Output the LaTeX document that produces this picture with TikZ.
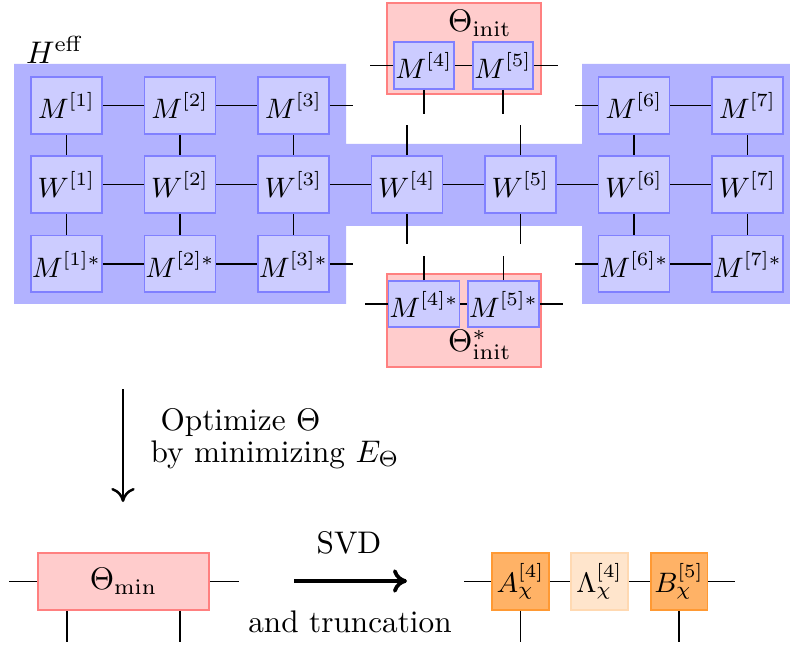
\documentclass[tikz,border=0pt]{standalone}
\usepackage{amsmath}
\usetikzlibrary{calc,arrows.meta}

\tikzset{
  tensor/.style={draw=blue!50, fill=blue!20, semithick, inner sep=0pt, font=\small,
    minimum width=22.7pt, minimum height=18.2pt},
  thetabox/.style={draw=red!50, fill=red!20, semithick, inner sep=0pt},
  abox/.style={draw=orange!80, fill=orange!60, semithick, inner sep=0pt, font=\small,
    minimum width=18.2pt, minimum height=18.2pt},
  lbox/.style={draw=orange!30, fill=orange!20, semithick, inner sep=0pt, font=\small,
    minimum width=18.2pt, minimum height=18.2pt},
  bond/.style={semithick, black},
  step arrow/.style={-{To[length=4.5pt, width=7.5pt]}},
}

\begin{document}
\begin{tikzpicture}[x=0.32pt, y=-0.32pt]
  \useasboundingbox (0,0) rectangle (790,646);

  % Effective Hamiltonian background
  \fill[blue!30] (14,64) -- (346,64) -- (346,144) -- (582,144) -- (582,64)
    -- (790,64) -- (790,304) -- (582,304) -- (582,226) -- (346,226)
    -- (346,304) -- (14,304) -- cycle;
  \node (Heff) at (55,50) {$H^{\mathrm{eff}}$};

  % Two-site tensors
  \node[thetabox, minimum width=49.3pt, minimum height=29.1pt] (Ti) at (464,48.5) {};
  \node[inner sep=0pt] (Tilab) at (480,23) {$\Theta_{\mathrm{init}}$};
  \node[thetabox, minimum width=49.3pt, minimum height=29.8pt] (Tis) at (464,320.5) {};
  \node[inner sep=0pt] (Tislab) at (480,345) {$\Theta^*_{\mathrm{init}}$};

  % MPS, MPO and conjugate MPS
  \foreach \i in {1,...,7}
    \node[tensor] (W\i) at ({66.5+113.5*(\i-1)},184.5) {$W^{[\i]}$};
  \foreach \i in {1,2,3,6,7} {
    \node[tensor] (M\i) at ({66.5+113.5*(\i-1)},105.5) {$M^{[\i]}$};
    \node[tensor] (Ms\i) at ({66.5+113.5*(\i-1)},264) {$M^{[\i]*}$};
    \draw[bond] (M\i) -- (W\i);
    \draw[bond] (W\i) -- (Ms\i);
  }
  \node[tensor, minimum width=19.2pt, minimum height=15pt] (M4) at (424,65.5) {$M^{[4]}$};
  \node[tensor, minimum width=19.2pt, minimum height=15pt] (M5) at (503,65.5) {$M^{[5]}$};
  \node[tensor, minimum height=14.7pt] (Ms4) at (424,304) {$M^{[4]*}$};
  \node[tensor, minimum height=14.7pt] (Ms5) at (503.5,304) {$M^{[5]*}$};

  % Bonds
  \draw[bond] (M1) -- (M2) -- (M3);
  \draw[bond] (M6) -- (M7);
  \draw[bond] (Ms1) -- (Ms2) -- (Ms3);
  \draw[bond] (Ms6) -- (Ms7);
  \draw[bond] (W1) -- (W2) -- (W3) -- (W4) -- (W5) -- (W6) -- (W7);
  \draw[bond] (M3.east) -- ++(23,0);
  \draw[bond] (Ms3.east) -- ++(23,0);
  \draw[bond] (M6.west) -- ++(-23,0);
  \draw[bond] (Ms6.west) -- ++(-23,0);
  \draw[bond] (M4.west) -- ++(-23,0);
  \draw[bond] (M4) -- (M5);
  \draw[bond] (M5.east) -- ++(24,0);
  \draw[bond] (Ms4.west) -- ++(-23,0);
  \draw[bond] (Ms4) -- (Ms5);
  \draw[bond] (Ms5.east) -- ++(23,0);
  \foreach \i in {4,5} {
    \draw[bond] (M\i.south) -- ++(0,24);
    \draw[bond] (Ms\i.north) -- ++(0,-24);
    \draw[bond] (W\i.north) -- ++(0,-30);
    \draw[bond] (W\i.south) -- ++(0,30);
  }

  % Optimization step
  \coordinate (optA) at (123,389);
  \coordinate (optB) at (123,502);
  \draw[step arrow, thick] (optA) -- (optB);
  \node[anchor=base west, inner sep=0pt] (optlab) at (160,430) {Optimize $\Theta$};
  \node[anchor=base west, inner sep=0pt] (minlab) at (150,462) {by minimizing $E_\Theta$};

  % Optimized two-site tensor
  \node[thetabox, minimum width=54.7pt, minimum height=18.2pt] (Tmin) at (123.5,581.5)
    {$\Theta_{\mathrm{min}}$};
  \draw[bond] (Tmin.west) -- ++(-28,0);
  \draw[bond] (Tmin.east) -- ++(29,0);
  \draw[bond] (Tmin.south) ++(-56.5,0) -- ++(0,31);
  \draw[bond] (Tmin.south) ++(56.5,0) -- ++(0,31);

  % SVD
  \coordinate (svdA) at (294,581);
  \coordinate (svdB) at (407,581);
  \draw[step arrow, very thick] (svdA) -- (svdB);
  \node (svdlab) at (349,543) {SVD};
  \node (trunclab) at (350,622) {and truncation};

  % Result
  \node[abox] (A4) at (520.5,581.5) {$A^{[4]}_\chi$};
  \node[lbox] (L4) at (599.5,581.5) {$\Lambda^{[4]}_\chi$};
  \node[abox] (B5) at (679,581.5) {$B^{[5]}_\chi$};
  \draw[bond] (A4.west) -- ++(-27,0);
  \draw[bond] (A4) -- (L4) -- (B5);
  \draw[bond] (B5.east) -- ++(27,0);
  \draw[bond] (A4.south) -- ++(0,31);
  \draw[bond] (B5.south) -- ++(0,31);
\end{tikzpicture}
\end{document}
